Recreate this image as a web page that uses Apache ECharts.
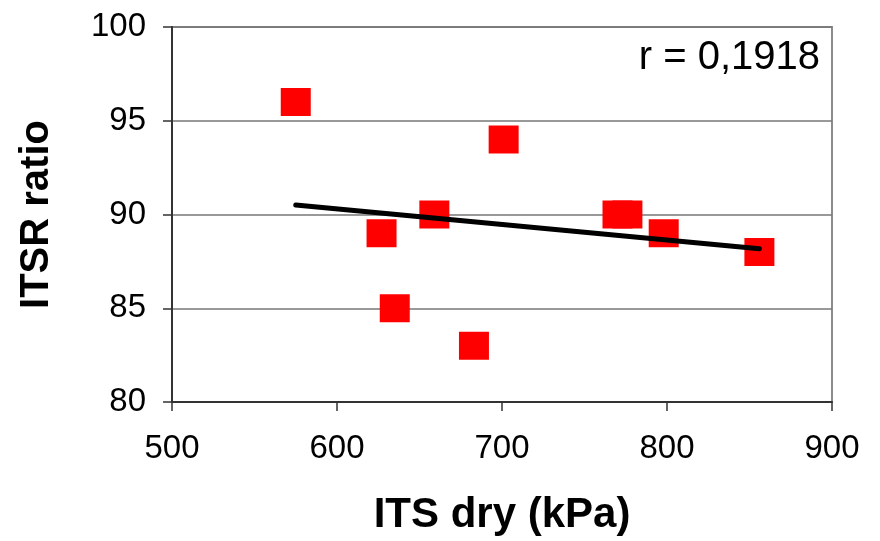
<!DOCTYPE html>
<html>
<head>
<meta charset="utf-8">
<script src="https://cdn.jsdelivr.net/npm/echarts@6/dist/echarts.min.js"></script>
<style>
  html, body { margin: 0; padding: 0; background: #fff; }
  #chart { width: 880px; height: 541px; }
</style>
</head>
<body>
<div id="chart"></div>
<script>
// ITS dry (kPa) vs ITSR ratio
var itsDry = [575, 701, 627, 659, 635, 683, 770, 776, 798, 856];
var itsrRatio = [96, 94, 89, 90, 85, 83, 90, 90, 89, 88];
var xTicks = [500, 600, 700, 800, 900];
var yTicks = [80, 85, 90, 95, 100];

var points = itsDry.map(function (x, i) { return [x, itsrRatio[i]]; });

// least squares trend line over the data range
var n = itsDry.length;
var mx = itsDry.reduce(function (a, b) { return a + b; }, 0) / n;
var my = itsrRatio.reduce(function (a, b) { return a + b; }, 0) / n;
var sxy = 0, sxx = 0;
for (var i = 0; i < n; i++) {
  sxy += (itsDry[i] - mx) * (itsrRatio[i] - my);
  sxx += (itsDry[i] - mx) * (itsDry[i] - mx);
}
var slope = sxy / sxx;
var xMin = Math.min.apply(null, itsDry), xMax = Math.max.apply(null, itsDry);
var trend = [[xMin, my + slope * (xMin - mx)], [xMax, my + slope * (xMax - mx)]];

var chart = echarts.init(document.getElementById('chart'));
chart.setOption({
  backgroundColor: '#fff',
  animation: false,
  grid: { left: 172, right: 48, top: 27, bottom: 138, show: true, borderColor: '#8c8c8c', borderWidth: 2 },
  xAxis: {
    type: 'value', min: xTicks[0], max: xTicks[xTicks.length - 1], interval: 100,
    name: 'ITS dry (kPa)', nameLocation: 'middle', nameGap: 92,
    nameTextStyle: { fontFamily: 'Liberation Sans', fontSize: 42, fontWeight: 'bold', color: '#000' },
    axisLine: { show: true, lineStyle: { color: '#333', width: 2 } },
    axisTick: { show: true, length: 9, lineStyle: { color: '#333', width: 1.5 } },
    axisLabel: { fontFamily: 'Liberation Sans', fontSize: 33, color: '#000', margin: 30 },
    splitLine: { show: false }
  },
  yAxis: {
    type: 'value', min: yTicks[0], max: yTicks[yTicks.length - 1], interval: 5,
    name: 'ITSR ratio', nameLocation: 'middle', nameGap: 115, nameRotate: 90,
    nameTextStyle: { fontFamily: 'Liberation Sans', fontSize: 40, fontWeight: 'bold', color: '#000' },
    axisLine: { show: true, lineStyle: { color: '#333', width: 2 } },
    axisTick: { show: true, length: 9, lineStyle: { color: '#333', width: 1.5 } },
    axisLabel: { fontFamily: 'Liberation Sans', fontSize: 33, color: '#000', margin: 26 },
    splitLine: { show: true, lineStyle: { color: '#777', width: 1.5 } }
  },
  graphic: [{
    type: 'text', right: 60, top: 38,
    style: { text: 'r = 0,1918', fontFamily: 'Liberation Sans', fontSize: 40, fill: '#000' }
  }],
  series: [
    {
      type: 'scatter', data: points, symbol: 'rect', symbolSize: [30, 28],
      itemStyle: { color: '#ff0000', opacity: 1 }, z: 2
    },
    {
      type: 'line', data: trend, symbol: 'none',
      lineStyle: { color: '#000', width: 5, cap: 'round' }, z: 3
    }
  ]
});
</script>
</body>
</html>
